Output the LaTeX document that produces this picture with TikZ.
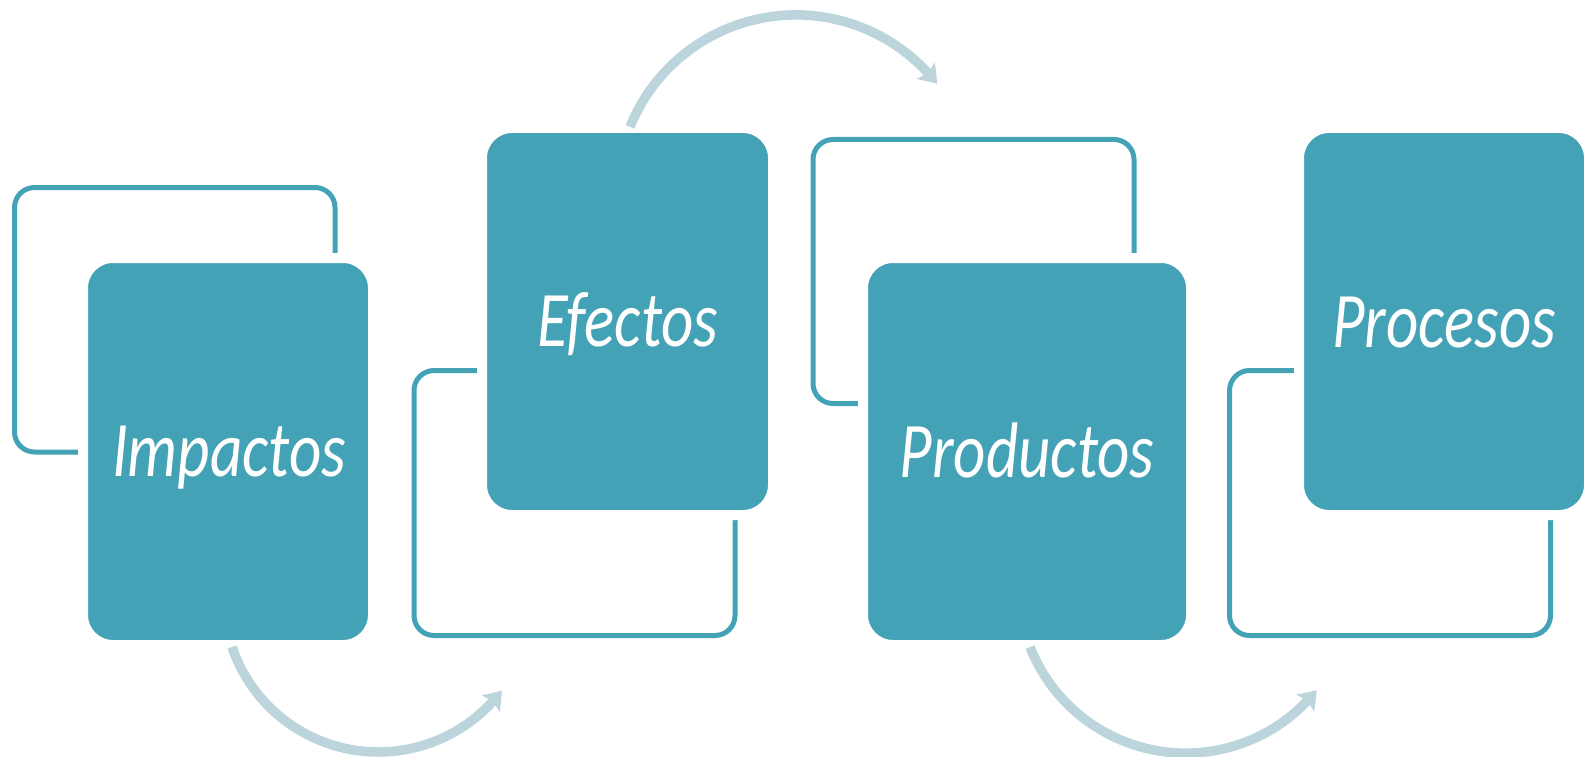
\documentclass[tikz,border=0pt]{standalone}
\usepackage{fontspec}
\usepackage{graphicx}
\setmainfont{Carlito}
\usetikzlibrary{arrows.meta,bending}
\definecolor{teal1}{HTML}{44A2B6}
\definecolor{arrowc}{HTML}{BCD4DB}
\tikzset{
  outl/.style={draw=teal1, line width=5pt, rounded corners=20pt},
  fbox/.style={fill=teal1, draw=white, line width=10pt, rounded corners=30pt, inner sep=0pt},
  lbl/.style={anchor=base, inner sep=0pt, text=white, font=\fontsize{63}{63}\selectfont\itshape},
  arr/.style={draw=arrowc, line width=9.5pt, -{Stealth[length=17pt,width=24pt,inset=3pt,bend]}}
}
\begin{document}
\begin{tikzpicture}[x=1pt,y=-1pt]
\useasboundingbox (0,0) rectangle (1593,757);
% outline frames
\draw[outl] (14.5,187.5) rectangle (335,452);
\draw[outl] (414,370.5) rectangle (735,635.5);
\draw[outl] (813,139.5) rectangle (1134,403.5);
\draw[outl] (1229.5,370.5) rectangle (1550.5,635.5);
% filled boxes
\node[fbox, minimum width=290pt, minimum height=387pt] (b1) at (228,451.5) {};
\node[fbox, minimum width=291pt, minimum height=387pt] (b2) at (627.5,321.5) {};
\node[fbox, minimum width=328pt, minimum height=387pt] (b3) at (1027,451.5) {};
\node[fbox, minimum width=290pt, minimum height=387pt] (b4) at (1444,321.5) {};
% labels
\node[lbl] (t1) at (229,476) {\scalebox{1}[1.25]{Impactos}};
\node[lbl] (t2) at (628,346) {\scalebox{1}[1.25]{Efectos}};
\node[lbl] (t3) at (1027,477) {\scalebox{1}[1.25]{Productos}};
\node[lbl] (t4) at (1444,347) {\scalebox{1}[1.25]{Procesos}};
% arrows
\coordinate (a1s) at (232.05,647.0);
\coordinate (a2s) at (630.0,126.9);
\coordinate (a3s) at (1030.05,647.05);
\draw[arr] (a1s) arc[start angle=161.3, end angle=37, radius=154.5];
\draw[arr] (a2s) arc[start angle=202, end angle=322, radius=179];
\draw[arr] (a3s) arc[start angle=158.5, end angle=38.6, radius=167.4];
\end{tikzpicture}
\end{document}
